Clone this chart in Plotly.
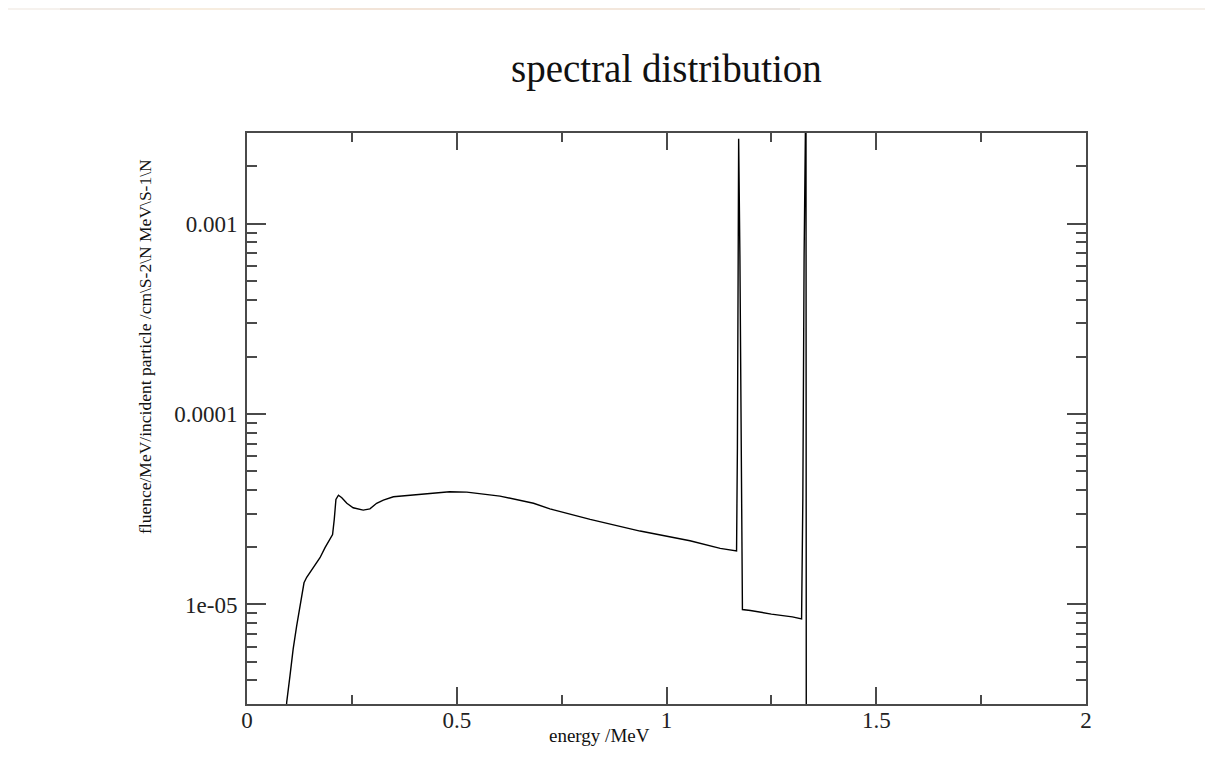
import plotly.graph_objects as go

# ---- data ----
energy = [0.092, 0.0946, 0.1025, 0.110, 0.1184, 0.1264, 0.1303, 0.1359, 0.1423, 0.158, 0.174,
          0.186, 0.198, 0.204, 0.208, 0.212, 0.218, 0.226, 0.238, 0.253, 0.277, 0.293, 0.309,
          0.325, 0.349, 0.405, 0.483, 0.524, 0.603, 0.683, 0.722, 0.818, 0.937, 1.056, 1.128,
          1.167, 1.169, 1.171, 1.172, 1.175, 1.178, 1.181, 1.20, 1.25, 1.30, 1.322, 1.325,
          1.328, 1.3325, 1.3335]
fluence = [2.2e-6, 3.06e-6, 4.23e-6, 5.83e-6, 7.72e-6, 1.0e-5, 1.13e-5, 1.30e-5, 1.39e-5, 1.56e-5, 1.76e-5,
           1.99e-5, 2.20e-5, 2.33e-5, 2.80e-5, 3.56e-5, 3.75e-5, 3.64e-5, 3.40e-5, 3.22e-5, 3.13e-5, 3.18e-5, 3.40e-5,
           3.53e-5, 3.68e-5, 3.78e-5, 3.91e-5, 3.89e-5, 3.71e-5, 3.40e-5, 3.18e-5, 2.80e-5, 2.43e-5, 2.16e-5, 1.97e-5,
           1.91e-5, 6.6e-5, 7.7e-4, 2.8e-3, 6.7e-4, 3.9e-5, 9.4e-6, 9.3e-6, 8.9e-6, 8.6e-6, 8.4e-6, 3.6e-5,
           6.7e-4, 6.0e-3, 1e-7]

x_tickvals = [0, 0.5, 1, 1.5, 2]
x_ticktext = ["0", "0.5", "1", "1.5", "2"]
x_minor = [0.25, 0.75, 1.25, 1.75]
y_tickvals = [1e-5, 1e-4, 1e-3]
y_ticktext = ["1e-05", "0.0001", "0.001"]
y_minor = [m * 10.0 ** e for e in (-6, -5, -4, -3) for m in range(2, 10)]

title_text = "spectral distribution"
x_title = "energy /MeV"
y_title = "fluence/MeV/incident particle /cm\\S-2\\N MeV\\S-1\\N"

SERIF = "Liberation Serif, Times New Roman, serif"

# page offset of the figure (body margin of the html page)
OFF = 8
# wanted plot area in page pixels: x 247..1086, y 133..704
L, R, T, B = 247, 1086, 133, 704
W, H = 1213 - OFF, 782 - OFF

def px_x(p):
    return (p - L) / (R - L)

def px_y(p):
    return (B - p) / (B - T)

fig = go.Figure()
fig.add_trace(go.Scatter(x=energy, y=fluence, mode="lines",
                         line=dict(color="black", width=1.4), showlegend=False,
                         hoverinfo="x+y"))

axis_common = dict(showline=True, linecolor="#4a4a4a", linewidth=2, mirror="ticks",
                   ticks="inside", tickcolor="#4a4a4a", tickwidth=2,
                   showgrid=False, zeroline=False,
                   tickfont=dict(family=SERIF, size=23, color="#222"))

fig.update_xaxes(range=[0, 2], tickmode="array", tickvals=x_tickvals, ticktext=x_ticktext,
                 ticklen=17, ticklabelstandoff=-6,
                 minor=dict(tickmode="array", tickvals=x_minor, ticklen=9, ticks="inside",
                            tickcolor="#4a4a4a", tickwidth=2, showgrid=False),
                 **axis_common)
fig.update_yaxes(type="log", range=[-5.523, -2.523], tickmode="array", tickvals=y_tickvals,
                 ticktext=y_ticktext, ticklen=19, ticklabelstandoff=3,
                 minor=dict(tickmode="array", tickvals=y_minor, ticklen=10, ticks="inside",
                            tickcolor="#4a4a4a", tickwidth=2, showgrid=False),
                 **axis_common)

annotations = [
    dict(text=title_text, xref="paper", yref="paper", x=0.5, y=px_y(69),
         xanchor="center", yanchor="middle", showarrow=False,
         font=dict(family=SERIF, size=39, color="#111")),
    dict(text=x_title, xref="paper", yref="paper", x=px_x(599), y=px_y(735),
         xanchor="center", yanchor="middle", showarrow=False,
         font=dict(family=SERIF, size=19, color="#111")),
    dict(text=y_title, xref="paper", yref="paper", x=px_x(145), y=px_y(347),
         xanchor="center", yanchor="middle", showarrow=False, textangle=-90,
         font=dict(family=SERIF, size=17.5, color="#111")),
]

# faint coloured strip along the top edge of the picture
strip = [(0, 60, "#f6f2ee"), (60, 150, "#eee7e1"), (150, 230, "#f7eddf"), (230, 330, "#f1eae4"),
         (330, 600, "#f2e4d8"), (600, 700, "#f3e7dc"), (700, 800, "#e9e3de"), (800, 900, "#f6f0e2"),
         (900, 1000, "#ebe2db"), (1000, 1213, "#f4efe9")]
shapes = [dict(type="rect", xref="paper", yref="paper", x0=px_x(a), x1=px_x(b),
               y0=px_y(10), y1=px_y(0), fillcolor=c, line=dict(width=0), layer="below")
          for a, b, c in strip]

fig.update_layout(width=W, height=H, autosize=False,
                  margin=dict(l=L - OFF, r=1213 - R, t=T - OFF, b=782 - B, pad=0),
                  paper_bgcolor="white", plot_bgcolor="white",
                  annotations=annotations, shapes=shapes, showlegend=False)

fig.write_html("out.html")
